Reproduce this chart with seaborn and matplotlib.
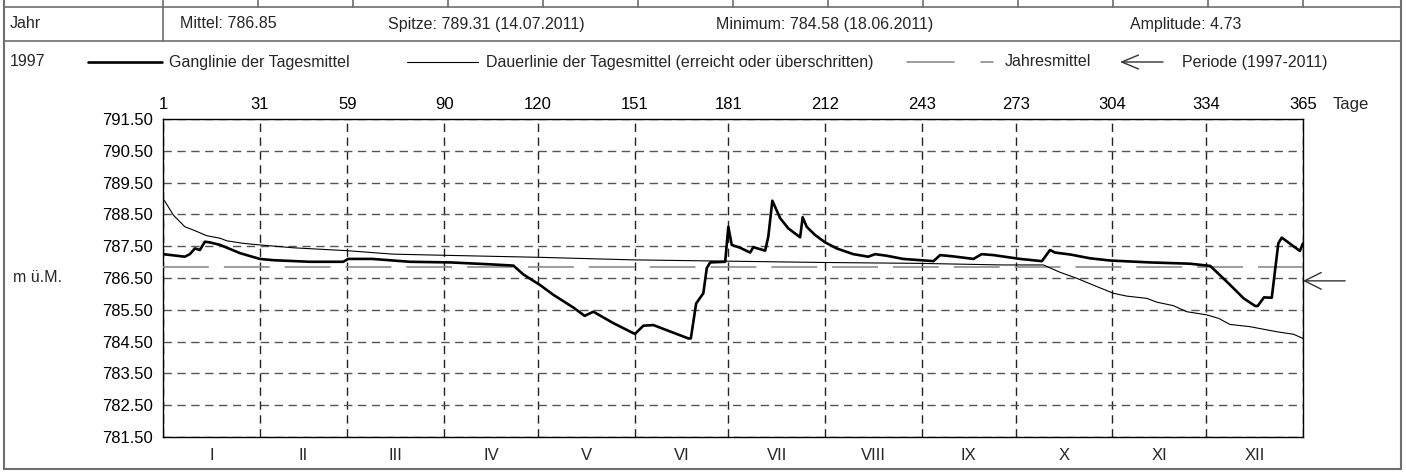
import matplotlib
matplotlib.use("Agg")
import matplotlib.pyplot as plt
import numpy as np
import pandas as pd
import seaborn as sns

# --- Werte ---
month_days = [1, 31, 59, 90, 120, 151, 181, 212, 243, 273, 304, 334, 365]
month_names = ["I", "II", "III", "IV", "V", "VI", "VII", "VIII", "IX", "X", "XI", "XII"]
y_ticks = [791.5, 790.5, 789.5, 788.5, 787.5, 786.5, 785.5, 784.5, 783.5, 782.5, 781.5]

# Ganglinie der Tagesmittel (Tag, m ü.M.)
gang_day = [0, 7, 8.6, 10.2, 11.8, 13.4, 15, 18.3, 24.7, 31, 35.3, 47, 57.7, 59.3, 67, 79, 92,
            104.7, 112.2, 115.4, 120.7, 125, 131.4, 135, 137.8, 144.2, 151.1, 153.8, 157, 168.2,
            169, 170.7, 173, 174.1, 175.2, 180, 181, 182.1, 184.8, 188, 189, 192.8, 193.8, 195.1,
            197.6, 200.2, 204, 204.8, 206.1, 208.8, 212, 215.7, 221, 225.8, 228, 231.7, 237,
            246.7, 248.8, 253, 259.5, 262.1, 265.9, 274.4, 281.4, 284, 285.6, 290.4, 296.8,
            303.2, 316, 328.8, 335.3, 341.7, 346, 349.7, 350.5, 352.5, 355, 357.1, 358.2, 364, 365]
gang_value = [787.25, 787.17, 787.25, 787.43, 787.38, 787.64, 787.62, 787.54, 787.28, 787.10,
              787.06, 787.01, 787.01, 787.10, 787.10, 787.01, 786.99, 786.93, 786.89, 786.61,
              786.28, 785.97, 785.57, 785.31, 785.44, 785.08, 784.74, 785.00, 785.02, 784.60,
              784.60, 785.70, 786.02, 786.81, 786.99, 787.01, 788.11, 787.54, 787.45, 787.30,
              787.47, 787.36, 787.80, 788.93, 788.38, 788.06, 787.78, 788.41, 788.11, 787.85,
              787.62, 787.43, 787.25, 787.17, 787.25, 787.20, 787.10, 787.03, 787.22, 787.18,
              787.10, 787.25, 787.22, 787.10, 787.03, 787.38, 787.30, 787.24, 787.12, 787.05,
              786.99, 786.95, 786.88, 786.28, 785.86, 785.62, 785.62, 785.89, 785.88, 787.59,
              787.77, 787.35, 787.59]

# Dauerlinie der Tagesmittel (erreicht oder überschritten)
dauer_day = [0.5, 3.3, 7, 9.7, 14, 18.3, 20.4, 25.7, 31, 41.7, 58.8, 73.7, 91.9, 120.7, 150.6,
             180.5, 210, 242, 269, 281.9, 287.2, 292.6, 299, 304.3, 308.6, 315, 318.2, 323.5,
             327.8, 334.2, 338, 341.6, 348, 356.6, 362, 365]
dauer_value = [788.93, 788.48, 788.11, 788.01, 787.83, 787.75, 787.67, 787.59, 787.54, 787.45,
               787.36, 787.25, 787.21, 787.15, 787.07, 787.03, 786.99, 786.96, 786.91, 786.91,
               786.68, 786.49, 786.23, 786.02, 785.93, 785.86, 785.74, 785.63, 785.44, 785.34,
               785.23, 785.04, 784.97, 784.81, 784.73, 784.60]

jahresmittel = 786.85
periode_mittel = 786.41

year_label = "1997"
stats = ["Mittel: 786.85", "Spitze: 789.31 (14.07.2011)",
         "Minimum: 784.58 (18.06.2011)", "Amplitude: 4.73"]

sns.set_theme(style="white")
plt.rcParams["font.family"] = ["Liberation Sans", "DejaVu Sans"]
FS = 11.5
FS_TICK = 12

W, H = 1406, 472
fig = plt.figure(figsize=(W / 100, H / 100), dpi=100)

# Rahmen / Tabelle in Pixelkoordinaten
frame = fig.add_axes([0, 0, 1, 1])
frame.set_xlim(0, W)
frame.set_ylim(H, 0)
frame.axis("off")
tc = "#6e6e6e"
frame.plot([4, 4], [0, 469], color=tc, lw=1.5)
frame.plot([1401, 1401], [0, 469], color=tc, lw=1.5)
frame.plot([4, 1401], [469, 469], color=tc, lw=1.5)
frame.plot([4, 1401], [7, 7], color=tc, lw=1.2)
frame.plot([4, 1401], [41, 41], color=tc, lw=1.2)
frame.plot([163, 163], [7, 41], color=tc, lw=1.2)
for k in range(13):
    xx = 163 + 95 * k
    frame.plot([xx, xx], [0, 7], color=tc, lw=1.2)

frame.text(10, 24, "Jahr", fontsize=FS, va="center", ha="left")
for xx, s in zip([180, 388, 716, 1130], stats):
    frame.text(xx, 24, s, fontsize=FS, va="center", ha="left")

# Legende
ly = 62
frame.text(10, ly, year_label, fontsize=FS, va="center")
frame.plot([88, 162], [ly, ly], color="black", lw=1.9)
frame.text(169, ly, "Ganglinie der Tagesmittel", fontsize=FS, va="center")
frame.plot([407, 478], [ly, ly], color="black", lw=0.8)
frame.text(486, ly, "Dauerlinie der Tagesmittel (erreicht oder überschritten)", fontsize=FS, va="center")
frame.plot([907, 954], [ly, ly], color="#8c8c8c", lw=1.2)
frame.plot([981, 993], [ly, ly], color="#8c8c8c", lw=1.2)
frame.text(1005, ly, "Jahresmittel", fontsize=FS, va="center")
frame.annotate("", xy=(1120, ly), xytext=(1163, ly),
               arrowprops=dict(arrowstyle="->,head_length=1.2,head_width=0.5",
                               color="#333333", lw=1.0, mutation_scale=10,
                               shrinkA=0, shrinkB=0))
frame.text(1182, ly, "Periode (1997-2011)", fontsize=FS, va="center")

# Diagramm
ax = fig.add_axes([163 / W, 1 - 437 / H, 1140 / W, 318 / H])
ax.set_facecolor("white")

gang = pd.DataFrame({"Tag": gang_day, "Wasserstand": gang_value})
dauer = pd.DataFrame({"Tag": dauer_day, "Wasserstand": dauer_value})

ax.axhline(jahresmittel, color="#8c8c8c", lw=1.2, dashes=(27.5, 9), zorder=3)
sns.lineplot(data=dauer, x="Tag", y="Wasserstand", color="black", linewidth=0.8,
             estimator=None, ax=ax, zorder=4)
sns.lineplot(data=gang, x="Tag", y="Wasserstand", color="black", linewidth=1.9,
             estimator=None, ax=ax, zorder=5)

tick_pos = [d if d > 1 else 0 for d in month_days]
ax.set_xlim(0, 365)
ax.set_ylim(781.5, 791.5)
ax.set_xticks(tick_pos)
ax.set_xticklabels([str(d) for d in month_days], fontsize=FS_TICK)
ax.xaxis.tick_top()
ax.set_yticks(y_ticks)
ax.set_yticklabels([f"{v:.2f}" for v in y_ticks], fontsize=FS_TICK)
ax.tick_params(axis="both", length=0, pad=5, colors="black")
ax.tick_params(axis="y", pad=7)
ax.set_xlabel("")
ax.set_ylabel("")

ax.yaxis.grid(True, color="#555555", lw=1.0, linestyle=(0, (6, 4)))
ax.xaxis.grid(True, color="#222222", lw=1.0, linestyle=(0, (6, 4)))
ax.set_axisbelow(True)
for sp in ax.spines.values():
    sp.set_visible(True)
    sp.set_color("black")
    sp.set_linewidth(1.0)

# römische Monatsnamen unten
trans = matplotlib.transforms.blended_transform_factory(ax.transData, ax.transAxes)
for i, name in enumerate(month_names):
    mid = (tick_pos[i] + tick_pos[i + 1]) / 2
    ax.text(mid, -0.057, name, transform=trans, ha="center", va="center", fontsize=FS_TICK)

ax.text(1.026, 1.045, "Tage", transform=ax.transAxes, ha="left", va="center", fontsize=FS_TICK)
ax.text(-0.132, (786.5 - 781.5) / 10, "m ü.M.", transform=ax.transAxes,
        ha="left", va="center", fontsize=FS)

# Pfeil Periodenmittel
ax.annotate("", xy=(365, periode_mittel), xytext=(378.5, periode_mittel),
            arrowprops=dict(arrowstyle="->,head_length=1.2,head_width=0.6",
                            color="#333333", lw=1.0, mutation_scale=10,
                            shrinkA=0, shrinkB=0),
            annotation_clip=False)

fig.savefig("out.png", dpi=100)
